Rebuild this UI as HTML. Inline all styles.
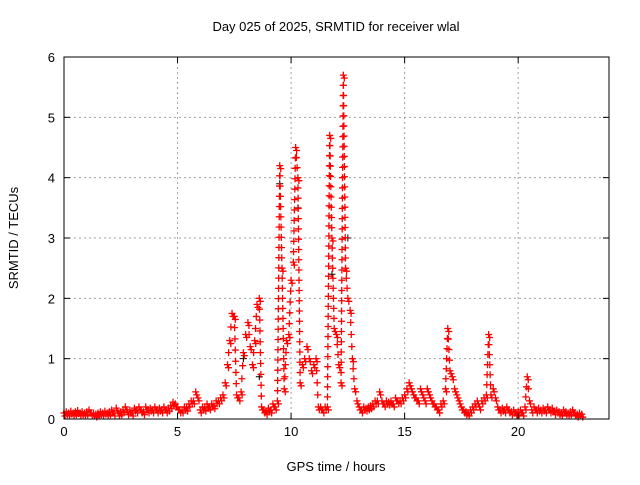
<!DOCTYPE html>
<html><head><meta charset="utf-8"><style>
body{margin:0;background:#fff;width:640px;height:480px;overflow:hidden;font-family:"Liberation Sans",sans-serif}
svg text{font-family:"Liberation Sans",sans-serif;font-size:13px;fill:#000}
</style></head><body>
<svg id="chart" width="640" height="480">
<text x="336" y="31" text-anchor="middle" font-size="14">Day 025 of 2025, SRMTID for receiver wlal</text>
<text x="336" y="471" text-anchor="middle">GPS time / hours</text>
<text transform="translate(18,238) rotate(-90)" text-anchor="middle">SRMTID / TECUs</text>
<g id="grid"></g><g id="marks"></g>
<rect x="64" y="57" width="545" height="362" fill="none" stroke="#000"/>
<g id="axes"></g>
</svg>
<script>
const xTicks=[0,5,10,15,20];
const yTicks=[0,1,2,3,4,5,6];
const tStep=0.1;
const redValues=[.1,.12,.1,.13,.1,.12,.14,.1,.12,.1,
.12,.15,.1,.1,.08,.1,.12,.1,.13,.1,
.12,.15,.1,.18,.1,.12,.15,.2,.12,.15,
.1,.18,.15,.2,.15,.12,.2,.15,.18,.15,
.2,.15,.18,.15,.2,.15,.18,.22,.28,.25,
.2,.15,.15,.2,.18,.25,.3,.3,.45,.35,
.15,.2,.18,.25,.2,.25,.22,.3,.3,.35,
.4,.6,.9,1.3,1.75,1.7,.4,.35,.45,1.1,
1.4,1.6,1.2,.9,1.3,1.9,2.0,.2,.15,.12,
.18,.15,.25,.2,.3,4.2,2.5,.5,1.3,1.4,
2.3,2.6,4.5,4.0,.6,.9,1.0,1.2,1.0,.8,
.9,1.0,.2,.2,.15,.2,.2,4.7,3.0,1.5,
1.4,.9,.6,5.7,2.5,2.0,1.8,1.0,.5,.3,
.2,.15,.2,.18,.2,.22,.25,.3,.3,.45,
.3,.25,.3,.28,.3,.25,.35,.3,.3,.35,
.4,.5,.6,.5,.4,.35,.3,.5,.4,.3,
.5,.4,.3,.25,.2,.15,.25,.3,.5,1.5,
.8,.7,.5,.4,.3,.2,.15,.12,.1,.15,
.2,.25,.3,.2,.3,.35,.4,1.4,.4,.5,
.35,.2,.15,.18,.15,.2,.15,.12,.15,.1,
.12,.15,.1,.2,.7,.3,.15,.2,.15,.18,
.15,.18,.15,.2,.15,.18,.12,.15,.12,.1,
.15,.12,.1,.12,.15,.1,.08,.1,.08];
const blackTimes=[7.9,8.6,9.5,10.3,11.8,12.5];
const blackValues=[1.0,0.7,3.9,3.5,2.4,3.0];
const X0=64,X1=609,Y0=419,Y1=57,XMAX=24,YMAX=6;
const sx=t=>X0+t/XMAX*(X1-X0), sy=v=>Y0-v/YMAX*(Y0-Y1);
const NS='http://www.w3.org/2000/svg';
const grid=document.getElementById('grid'),axes=document.getElementById('axes'),marks=document.getElementById('marks');
function mk(tag,attrs,parent){const e=document.createElementNS(NS,tag);for(const k in attrs)e.setAttribute(k,attrs[k]);parent.appendChild(e);return e;}
xTicks.forEach(t=>{const x=sx(t);
 if(t>0){const g=mk('line',{x1:x,x2:x,y1:Y1,y2:Y0,stroke:'#a0a0a0','stroke-dasharray':'2,3'},grid);
 
 }
 mk('line',{x1:x,x2:x,y1:Y0,y2:Y0-6,stroke:'#000'},axes);
 mk('line',{x1:x,x2:x,y1:Y1,y2:Y1+6,stroke:'#000'},axes);
 const l=mk('text',{x:x,y:Y0+17,'text-anchor':'middle'},axes);l.textContent=t;
 
 });
yTicks.forEach(v=>{const y=sy(v);
 if(v>0&&v<6){const g=mk('line',{x1:X0,x2:X1,y1:y,y2:y,stroke:'#a0a0a0','stroke-dasharray':'2,3'},grid);
 
 }
 mk('line',{x1:X0,x2:X0+6,y1:y,y2:y,stroke:'#000'},axes);
 mk('line',{x1:X1,x2:X1-6,y1:y,y2:y,stroke:'#000'},axes);
 const l=mk('text',{x:X0-9,y:y+5,'text-anchor':'end'},axes);l.textContent=v;
 
 });
function plus(x,y){return 'M'+(x-3.5)+' '+y+'h7M'+x+' '+(y-3.5)+'v7';}
let bd='';
blackTimes.forEach((t,i)=>{bd+=plus(sx(t),sy(blackValues[i]));});
let rd='';
for(let i=0;i<redValues.length;i++){
 const x=sx(i*tStep),y=sy(redValues[i]);rd+=plus(x,y);rd+=plus(x+1,y+3);
 if(i+1<redValues.length){const x2=sx((i+1)*tStep),y2=sy(redValues[i+1]);
  const n=Math.floor(Math.hypot(x2-x,y2-y)/10);
  for(let k=1;k<n;k++){rd+=plus(x+(x2-x)*k/n,y+(y2-y)*k/n);}}
}
const bp=mk('path',{d:bd,stroke:'#000','stroke-width':1,fill:'none'},marks);


const rp=mk('path',{d:rd,stroke:'#ff0000','stroke-width':1.3,fill:'none'},marks);


</script>
</body></html>
